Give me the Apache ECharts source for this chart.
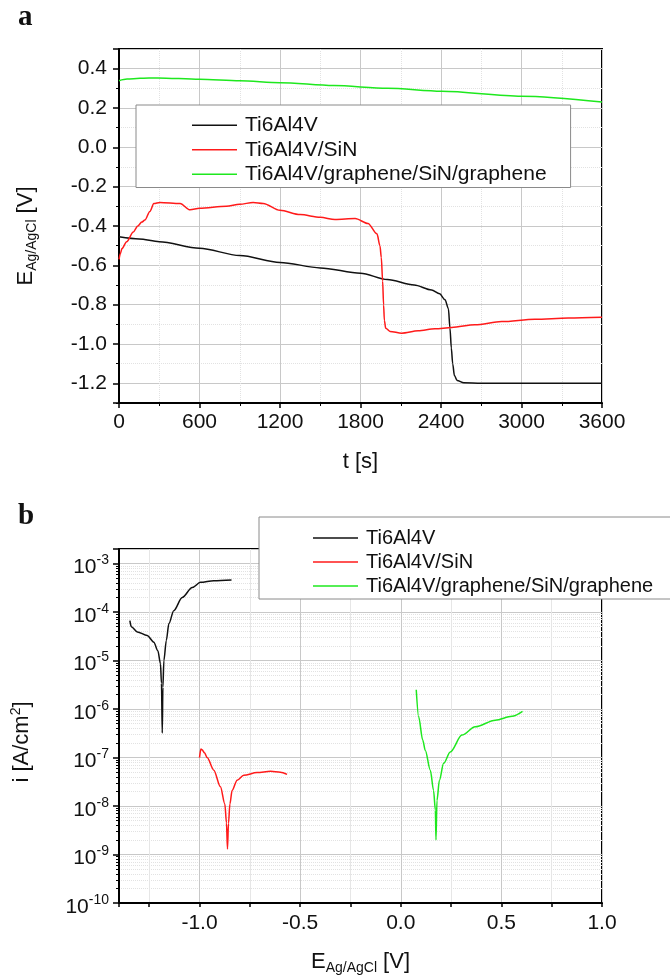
<!DOCTYPE html>
<html>
<head>
<meta charset="utf-8">
<script src="https://cdn.jsdelivr.net/npm/echarts@6/dist/echarts.min.js"></script>
<style>
  html, body { margin: 0; padding: 0; background: #fff; }
  #main { width: 670px; height: 978px; }
</style>
</head>
<body>
<div id="main"></div>
<script>
// 数据 (a): 开路电位随时间
const names = ['Ti6Al4V', 'Ti6Al4V/SiN', 'Ti6Al4V/graphene/SiN/graphene']
const colors = ['#111111', '#ff1a1a', '#1ee81e']

const tiTime = [0, 150, 300, 600, 900, 1200, 1500, 1800, 2000, 2200, 2330, 2390, 2430, 2455, 2467, 2477, 2487, 2500, 2520, 2570, 2700, 3000, 3600]
const tiE = [-0.455, -0.466, -0.48, -0.513, -0.55, -0.585, -0.613, -0.64, -0.672, -0.70, -0.725, -0.745, -0.775, -0.82, -0.92, -1.02, -1.10, -1.16, -1.185, -1.197, -1.2, -1.2, -1.2]

const sinTime = [0, 10, 22, 57, 107, 140, 170, 193, 230, 260, 305, 455, 530, 600, 800, 900, 1000, 1075, 1200, 1350, 1500, 1610, 1760, 1856, 1923, 1945, 1955, 1965, 1972, 1978, 1988, 2020, 2107, 2230, 2355, 2480, 2653, 2852, 3100, 3349, 3600]
const sinE = [-0.57, -0.54, -0.515, -0.48, -0.43, -0.40, -0.38, -0.37, -0.326, -0.286, -0.28, -0.286, -0.318, -0.31, -0.30, -0.29, -0.28, -0.285, -0.32, -0.342, -0.356, -0.367, -0.362, -0.387, -0.44, -0.50, -0.56, -0.68, -0.80, -0.88, -0.92, -0.936, -0.945, -0.933, -0.923, -0.916, -0.902, -0.886, -0.874, -0.868, -0.864]

const grTime = [0, 60, 157, 290, 600, 900, 1200, 1600, 2000, 2405, 3000, 3600]
const grE = [0.339, 0.347, 0.351, 0.353, 0.346, 0.338, 0.329, 0.314, 0.30, 0.285, 0.26, 0.23]

// 数据 (b): 极化曲线
const tiPolE = [-1.346, -1.339, -1.309, -1.26, -1.227, -1.207, -1.194, -1.189, -1.185, -1.182, -1.177, -1.165, -1.152, -1.128, -1.086, -1.036, -0.995, -0.929, -0.841]
const tiPolI = [6.7e-5, 5.0e-5, 3.9e-5, 3.3e-5, 2.4e-5, 1.6e-5, 8.7e-6, 3.4e-6, 3.2e-7, 2.8e-6, 1.0e-5, 2.6e-5, 5.8e-5, 1.07e-4, 2.0e-4, 3.2e-4, 4.1e-4, 4.45e-4, 4.6e-4]

const sinPolE = [-1.0, -0.993, -0.987, -0.975, -0.962, -0.929, -0.896, -0.874, -0.866, -0.861, -0.856, -0.849, -0.838, -0.813, -0.78, -0.714, -0.647, -0.598, -0.565]
const sinPolI = [1.0e-7, 1.5e-7, 1.45e-7, 1.25e-7, 1.0e-7, 5.5e-8, 2.5e-8, 1.1e-8, 4.5e-9, 1.3e-9, 4.4e-9, 1.1e-8, 2.1e-8, 3.4e-8, 4.3e-8, 4.9e-8, 5.2e-8, 5.0e-8, 4.5e-8]

const grPolE = [0.077, 0.089, 0.109, 0.122, 0.147, 0.163, 0.172, 0.175, 0.180, 0.192, 0.213, 0.246, 0.304, 0.370, 0.470, 0.553, 0.605]
const grPolI = [2.5e-6, 6.9e-7, 2.3e-7, 1.4e-7, 5.5e-8, 2.1e-8, 8.2e-9, 2.0e-9, 1.3e-8, 3.4e-8, 7.6e-8, 1.3e-7, 2.9e-7, 4.3e-7, 5.9e-7, 7.1e-7, 9.0e-7]

const font = 'Liberation Sans, Arial, sans-serif'
const pairs = (xs, ys) => xs.map((x, i) => [x, ys[i]])

const axisCommon = {
    axisLine: { onZero: false, lineStyle: { color: '#000', width: 2 } },
    axisTick: { length: 5, lineStyle: { color: '#000', width: 1.5 } },
    minorTick: { show: true, splitNumber: 2, length: 3, lineStyle: { color: '#000', width: 1 } },
    splitLine: { show: true, lineStyle: { color: '#c8c8c8', width: 1 } },
    minorSplitLine: { show: true, lineStyle: { color: '#e2e2e2', width: 1, type: 'dotted' } },
    axisLabel: { color: '#111', fontSize: 21, fontFamily: font },
    nameTextStyle: { color: '#111', fontFamily: font },
}

const nameRich = {
    m: { fontSize: 22, lineHeight: 26, fontFamily: font, color: '#111' },
    s: { fontSize: 14, lineHeight: 4, verticalAlign: 'bottom', fontFamily: font, color: '#111' },
    p: { fontSize: 14, lineHeight: 6, verticalAlign: 'top', fontFamily: font, color: '#111' },
}

const line = (name, idx, data, color) => ({
    name: name,
    type: 'line',
    xAxisIndex: idx,
    yAxisIndex: idx,
    data: data,
    showSymbol: false,
    symbol: 'none',
    smooth: 0.3,
    smoothMonotone: 'x',
    lineStyle: { color: color, width: 1.5 },
    itemStyle: { color: color },
    z: 3,
})

const legendCommon = {
    orient: 'vertical',
    backgroundColor: '#fff',
    borderColor: '#8a8a8a',
    borderWidth: 1,
    icon: 'rect',
    itemWidth: 45,
    itemHeight: 1.5,
    itemGap: 0,
    data: names,
    z: 10,
}

let element = document.querySelector('#main')
let myChart = echarts.init(element)

let option = {
    animation: false,
    backgroundColor: '#fff',
    title: [
        { text: 'a', left: 13, top: -2, textStyle: { fontFamily: 'Liberation Serif', fontWeight: 'bold', fontSize: 29, color: '#111' } },
        { text: 'b', left: 13, top: 497, textStyle: { fontFamily: 'Liberation Serif', fontWeight: 'bold', fontSize: 29, color: '#111' } },
    ],
    grid: [
        { left: 119, top: 49, width: 483, height: 354, show: true, borderColor: '#000', borderWidth: 2 },
        { left: 119, top: 549, width: 483, height: 354, show: true, borderColor: '#000', borderWidth: 2 },
    ],
    legend: [
        Object.assign({}, legendCommon, {
            left: 136, top: 105, padding: [8, 24, 1, 56],
            textStyle: { fontSize: 21, lineHeight: 24.5, color: '#111', fontFamily: font, padding: [0, 0, 0, 3] },
        }),
        Object.assign({}, legendCommon, {
            left: 259, top: 517, padding: [9, 40, 1, 54],
            textStyle: { fontSize: 20, lineHeight: 24, color: '#111', fontFamily: font, padding: [0, 0, 0, 3] },
        }),
    ],
    xAxis: [
        Object.assign({}, axisCommon, {
            gridIndex: 0,
            type: 'value',
            min: 0,
            max: 3600,
            interval: 600,
            axisLabel: Object.assign({}, axisCommon.axisLabel, { margin: 9, formatter: v => String(v) }),
            name: '{m|t [s]}',
            nameLocation: 'middle',
            nameGap: 46,
            nameTextStyle: { rich: nameRich },
        }),
        Object.assign({}, axisCommon, {
            gridIndex: 1,
            type: 'value',
            min: -1.4,
            max: 1.0,
            splitNumber: 10,
            minInterval: 0.25,
            maxInterval: 0.25,
            minorTick: { show: false },
            minorSplitLine: { show: false },
            axisTick: { length: 4, lineStyle: { color: '#000', width: 1.5 } },
            splitLine: { show: true, lineStyle: { color: ['#c8c8c8', '#e6e6e6'], width: 1 } },
            axisLabel: Object.assign({}, axisCommon.axisLabel, {
                margin: 10,
                formatter: v => (Math.round(v * 100) % 50 === 0 ? v.toFixed(1) : ''),
            }),
            name: '{m|E}{s|Ag/AgCl}{m| [V]}',
            nameLocation: 'middle',
            nameGap: 46,
            nameTextStyle: { rich: nameRich },
        }),
    ],
    yAxis: [
        Object.assign({}, axisCommon, {
            gridIndex: 0,
            type: 'value',
            min: -1.3,
            max: 0.5,
            splitNumber: 9,
            minInterval: 0.2,
            maxInterval: 0.2,
            axisTick: { length: 6, lineStyle: { color: '#000', width: 1.5 } },
            axisLabel: Object.assign({}, axisCommon.axisLabel, {
                margin: 12,
                formatter: v => {
                    let k = Math.round(v * 10)
                    return (k % 2 === 0 && k >= -12 && k <= 4) ? v.toFixed(1) : ''
                },
            }),
            name: '{m|E}{s|Ag/AgCl}{m| [V]}',
            nameLocation: 'middle',
            nameGap: 80,
            nameRotate: 90,
            nameTextStyle: { rich: nameRich, padding: [0, 20, 0, 0] },
        }),
        Object.assign({}, axisCommon, {
            gridIndex: 1,
            type: 'log',
            logBase: 10,
            min: 1e-10,
            max: 2e-3,
            minorTick: { show: true, splitNumber: 9, length: 3, lineStyle: { color: '#000', width: 1 } },
            axisTick: { length: 6, lineStyle: { color: '#000', width: 1.5 } },
            axisLabel: {
                margin: 10,
                padding: [8, 0, 0, 0],
                color: '#111',
                fontFamily: font,
                formatter: v => {
                    let e = Math.log10(v)
                    let r = Math.round(e)
                    if (Math.abs(e - r) > 1e-6) {
                        return ''
                    }
                    return '{b|10}{e|' + r + '}'
                },
                rich: {
                    b: { fontSize: 21, lineHeight: 28, fontFamily: font, color: '#111' },
                    e: { fontSize: 14, lineHeight: 10, verticalAlign: 'top', fontFamily: font, color: '#111' },
                },
            },
            name: '{m|i [A/cm}{p|2}{m|]}',
            nameLocation: 'middle',
            nameGap: 84,
            nameRotate: 90,
            nameTextStyle: { rich: nameRich, padding: [0, 32, 0, 0] },
        }),
    ],
    series: [
        line(names[0], 0, pairs(tiTime, tiE), colors[0]),
        line(names[1], 0, pairs(sinTime, sinE), colors[1]),
        line(names[2], 0, pairs(grTime, grE), colors[2]),
        line(names[0], 1, pairs(tiPolE, tiPolI), colors[0]),
        line(names[1], 1, pairs(sinPolE, sinPolI), colors[1]),
        line(names[2], 1, pairs(grPolE, grPolI), colors[2]),
    ],
}

myChart.setOption(option)
</script>
</body>
</html>
